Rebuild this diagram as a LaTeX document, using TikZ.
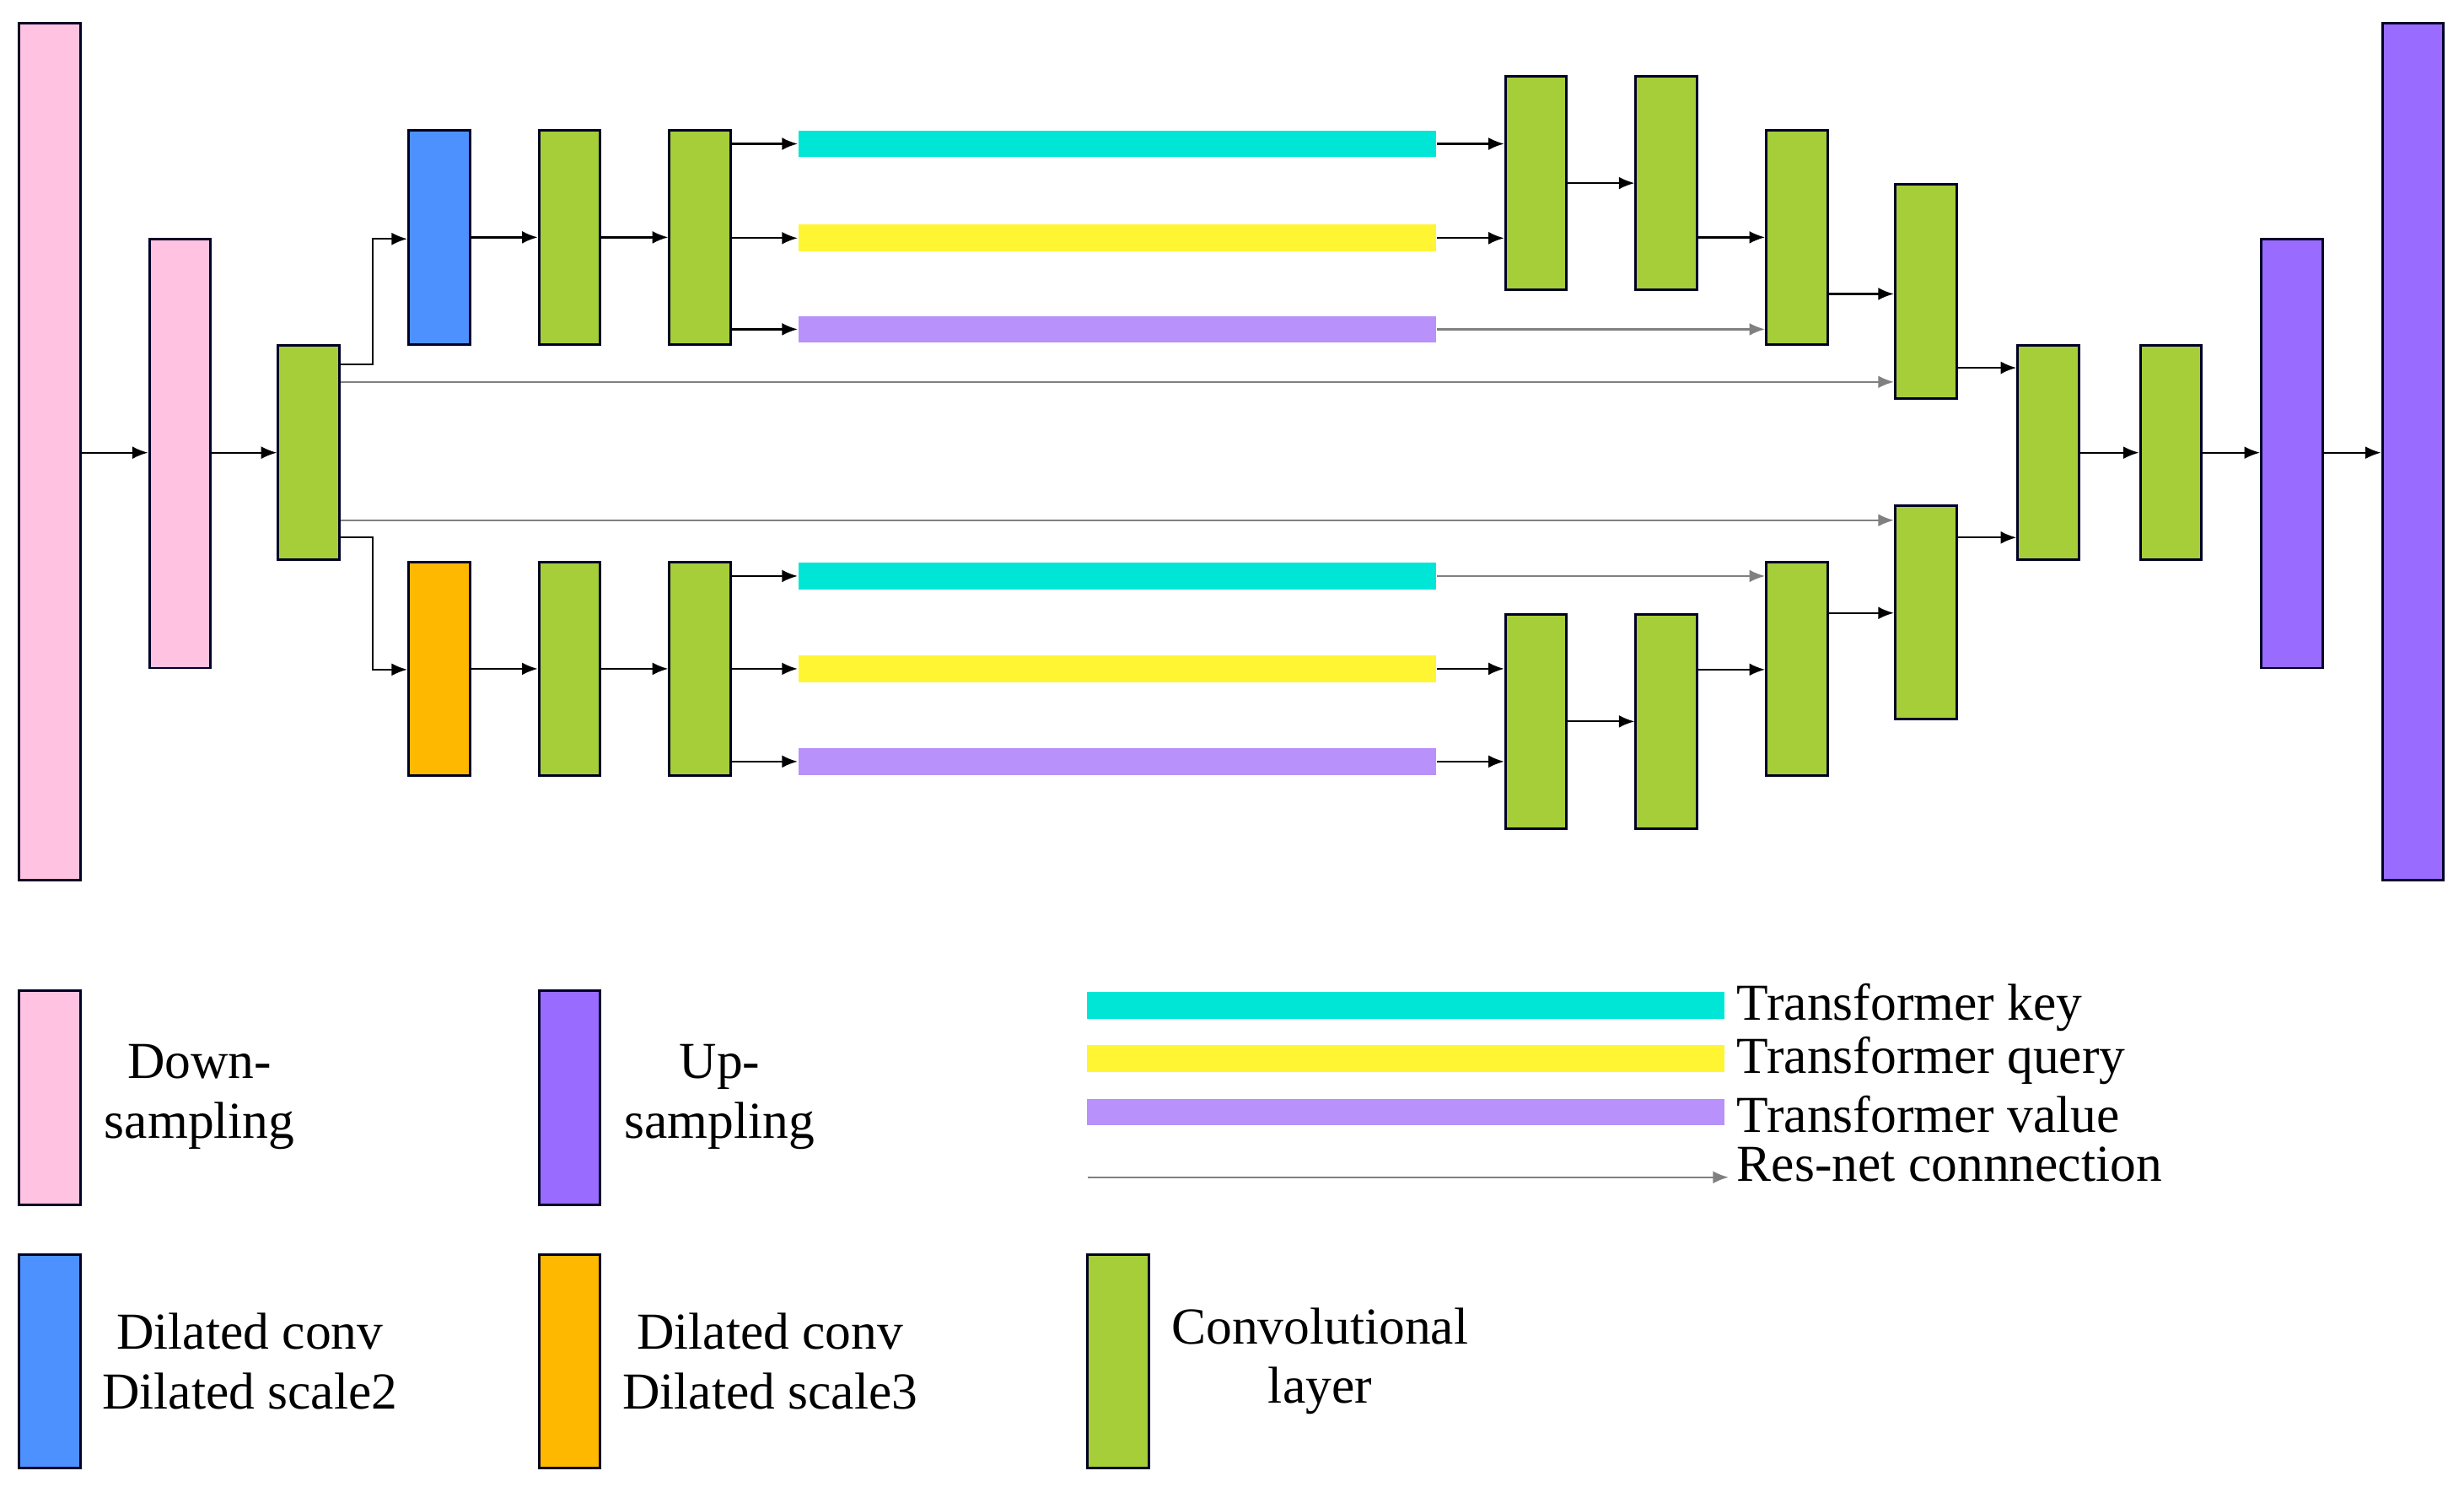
\documentclass[tikz,border=0pt]{standalone}
\usepackage{fontspec}
\setmainfont{Liberation Serif}
\usetikzlibrary{arrows.meta}
\definecolor{pk}{RGB}{255,194,224}
\definecolor{gr}{RGB}{166,206,57}
\definecolor{bl}{RGB}{77,145,255}
\definecolor{og}{RGB}{255,184,0}
\definecolor{pu}{RGB}{153,107,255}
\definecolor{cy}{RGB}{0,230,214}
\definecolor{ye}{RGB}{255,245,51}
\definecolor{lv}{RGB}{185,145,250}
\definecolor{gy}{RGB}{128,128,128}
\begin{document}
\begin{tikzpicture}[x=0.5pt,y=-0.5pt,
  box/.style={draw=black!85!blue,line width=0.8pt,inner sep=0pt,minimum width=19.5pt,minimum height=68pt},
  huge/.style={box,minimum height=272.5pt},
  mid/.style={box,minimum height=136.5pt},
  bar/.style={inner sep=0pt,minimum width=203pt,minimum height=8.5pt},
  arr/.style={-{Latex[length=5pt,width=4pt]},line width=0.6pt},
  garr/.style={arr,gy},
  txt/.style={font=\fontsize{16.5}{19}\selectfont,align=center,inner sep=0pt}]
\useasboundingbox (0,0) rectangle (1568,946);
% main boxes
\node[huge,fill=pk] (p1) at (31.5,287.5) {};
\node[mid,fill=pk] (p2) at (114.5,288.5) {};
\node[box,fill=gr] (g0) at (196.5,288) {};
\node[box,fill=bl] (b) at (279.5,151) {};
\node[box,fill=gr] (u1) at (362.5,151) {};
\node[box,fill=gr] (u2) at (445.5,151) {};
\node[box,fill=og] (o) at (279.5,425.5) {};
\node[box,fill=gr] (l1) at (362.5,425.5) {};
\node[box,fill=gr] (l2) at (445.5,425.5) {};
% bars
\node[bar,fill=cy] (uk) at (711,91.5) {};
\node[bar,fill=ye] (uq) at (711,151.5) {};
\node[bar,fill=lv] (uv) at (711,209.5) {};
\node[bar,fill=cy] (lk) at (711,366.5) {};
\node[bar,fill=ye] (lq) at (711,425.5) {};
\node[bar,fill=lv] (lv) at (711,484.5) {};
% right upper
\node[box,fill=gr] (r1) at (977.5,116.5) {};
\node[box,fill=gr] (r2) at (1060.5,116.5) {};
\node[box,fill=gr] (r3) at (1143.5,151) {};
\node[box,fill=gr] (r4) at (1225.5,185.5) {};
% right lower
\node[box,fill=gr] (s1) at (977.5,459) {};
\node[box,fill=gr] (s2) at (1060.5,459) {};
\node[box,fill=gr] (s3) at (1143.5,425.5) {};
\node[box,fill=gr] (s4) at (1225.5,389.5) {};
% merge
\node[box,fill=gr] (m1) at (1303.5,288) {};
\node[box,fill=gr] (m2) at (1381.5,288) {};
\node[mid,fill=pu] (q2) at (1458.5,288.5) {};
\node[huge,fill=pu] (q1) at (1535.5,287.5) {};
% arrows main
\draw[arr] (p1.east|-0,288) -- (p2.west|-0,288);
\draw[arr] (p2.east|-0,288) -- (g0.west|-0,288);
\draw[arr] (g0.east|-0,232) -- (237,232) -- (237,152) -- (b.west|-0,152);
\draw[arr] (g0.east|-0,342) -- (237,342) -- (237,426) -- (o.west|-0,426);
\draw[garr] (g0.east|-0,243) -- (r4.west|-0,243);
\draw[garr] (g0.east|-0,331) -- (s4.west|-0,331);
\draw[arr] (b) -- (u1); \draw[arr] (u1) -- (u2);
\draw[arr] (o) -- (l1); \draw[arr] (l1) -- (l2);
\draw[arr] (u2.east|-uk) -- (uk.west);
\draw[arr] (u2.east|-uq) -- (uq.west);
\draw[arr] (u2.east|-uv) -- (uv.west);
\draw[arr] (l2.east|-lk) -- (lk.west);
\draw[arr] (l2.east|-lq) -- (lq.west);
\draw[arr] (l2.east|-lv) -- (lv.west);
\draw[arr] (uk.east) -- (r1.west|-uk);
\draw[arr] (uq.east) -- (r1.west|-uq);
\draw[garr] (uv.east) -- (r3.west|-uv);
\draw[arr] (r1) -- (r2);
\draw[arr] (r2.east|-0,151) -- (r3.west|-0,151);
\draw[arr] (r3.east|-0,187) -- (r4.west|-0,187);
\draw[arr] (r4.east|-0,234) -- (m1.west|-0,234);
\draw[garr] (lk.east) -- (s3.west|-lk);
\draw[arr] (lq.east) -- (s1.west|-lq);
\draw[arr] (lv.east) -- (s1.west|-lv);
\draw[arr] (s1) -- (s2);
\draw[arr] (s2.east|-0,426) -- (s3.west|-0,426);
\draw[arr] (s3.east|-0,390) -- (s4.west|-0,390);
\draw[arr] (s4.east|-0,342) -- (m1.west|-0,342);
\draw[arr] (m1) -- (m2);
\draw[arr] (m2.east|-0,288) -- (q2.west|-0,288);
\draw[arr] (q2.east|-0,288) -- (q1.west|-0,288);
% legend
\node[box,fill=pk] (lg1) at (31.5,698.5) {};
\node[txt] (t1) at (127,698) {Down-\\sampling};
\node[box,fill=pu] (lg2) at (362.5,698.5) {};
\node[txt] (t2) at (458,698) {Up-\\sampling};
\node[box,fill=bl] (lg3) at (31.5,866) {};
\node[txt] (t3) at (159,866) {Dilated conv\\Dilated scale2};
\node[box,fill=og] (lg4) at (362.5,866) {};
\node[txt] (t4) at (490,866) {Dilated conv\\Dilated scale3};
\node[box,fill=gr] (lg5) at (711.5,866) {};
\node[txt] (t5) at (840,866) {Convolutional\\layer};
\node[bar,fill=cy] (lk1) at (894.5,639.5) {};
\node[bar,fill=ye] (lk2) at (894.5,673.5) {};
\node[bar,fill=lv] (lk3) at (894.5,707.5) {};
\coordinate (ga) at (692,749);
\coordinate (gb) at (1100,749);
\draw[garr] (ga) -- (gb);
\node[txt,anchor=west] (k1) at (1105,641) {Transformer key};
\node[txt,anchor=west] (k2) at (1105,675) {Transformer query};
\node[txt,anchor=west] (k3) at (1105,709) {Transformer value};
\node[txt,anchor=west] (k4) at (1105,741) {Res-net connnection};
\end{tikzpicture}
\end{document}
